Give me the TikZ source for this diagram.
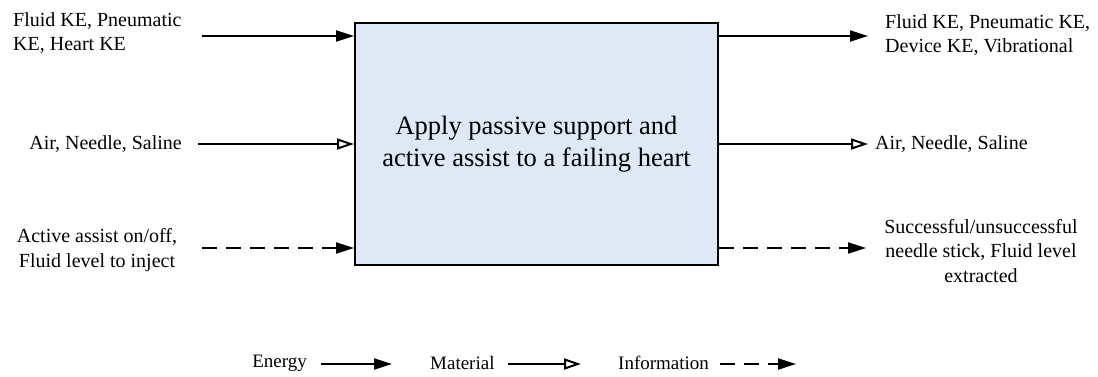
\documentclass[tikz,border=0pt]{standalone}
\usepackage{fontspec}
\setmainfont{Liberation Serif}
\usetikzlibrary{arrows.meta}
\definecolor{boxfill}{RGB}{223,232,245}
\begin{document}
\begin{tikzpicture}[x=1pt,y=-1pt,
  lbl/.style={inner sep=0pt,font=\fontsize{20}{24.5}\selectfont},
  leg/.style={inner sep=0pt,font=\fontsize{19}{23}\selectfont},
  energy/.style={line width=2pt,-{Triangle[length=18pt,width=11pt]}},
  material/.style={line width=2pt,-{Triangle[open,length=17pt,width=11pt,line width=2pt]}},
  info/.style={line width=2pt,dash pattern=on 15pt off 9pt,-{Triangle[length=18pt,width=11pt]}}]
\useasboundingbox (0,0) rectangle (1098,376);
\node[draw,line width=2pt,fill=boxfill,minimum width=363pt,minimum height=242pt,inner sep=0pt,anchor=north west,
  align=center,font=\fontsize{26.5}{32}\selectfont] (box) at (354,22) {Apply passive support and\\active assist to a failing heart};
% left labels
\node[lbl,align=left,anchor=west] (l1) at (13,33) {Fluid KE, Pneumatic\\KE, Heart KE};
\node[lbl,anchor=east] (l2) at (182,144) {Air, Needle, Saline};
\node[lbl,align=center] (l3) at (97,250) {Active assist on/off,\\Fluid level to inject};
% right labels
\node[lbl,align=left,anchor=west] (r1) at (885,35) {Fluid KE, Pneumatic KE,\\Device KE, Vibrational};
\node[lbl,anchor=west] (r2) at (875,144) {Air, Needle, Saline};
\node[lbl,align=center] (r3) at (981,251) {Successful/unsuccessful\\needle stick, Fluid level\\extracted};
% arrow ends
\coordinate (i1) at (202,36);
\coordinate (i2) at (198,144);
\coordinate (i3) at (202,248);
\coordinate (o1) at (868,36);
\coordinate (o2) at (868,144);
\coordinate (o3) at (866,248);
\draw[energy] (i1) -- (i1 -| box.west);
\draw[material] (i2) -- (i2 -| box.west);
\draw[info] (i3) -- (i3 -| box.west);
\draw[energy] (o1 -| box.east) -- (o1);
\draw[material] (o2 -| box.east) -- (o2);
\draw[info] (o3 -| box.east) -- (o3);
% legend
\node[leg,anchor=east] (le) at (307,363) {Energy};
\node[leg,anchor=west] (lm) at (430,363) {Material};
\node[leg,anchor=west] (li) at (618,363) {Information};
\coordinate (le1) at (321,364); \coordinate (le2) at (392,364);
\coordinate (lm1) at (508,364); \coordinate (lm2) at (581,364);
\coordinate (li1) at (720,364); \coordinate (li2) at (796,364);
\draw[energy] (le1) -- (le2);
\draw[material] (lm1) -- (lm2);
\draw[info] (li1) -- (li2);
\end{tikzpicture}
\end{document}
